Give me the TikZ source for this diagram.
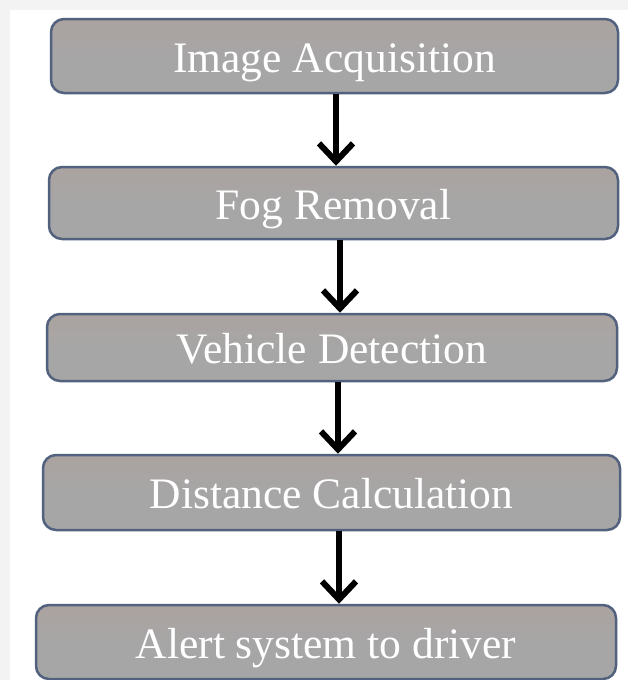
\documentclass[tikz,border=0pt]{standalone}
\usepackage{fontspec}
\setmainfont{Liberation Serif}
\usetikzlibrary{arrows.meta}
\definecolor{boxfill}{HTML}{A6A6A6}
\definecolor{boxtop}{HTML}{ABA3A0}
\definecolor{boxline}{HTML}{52627E}
\definecolor{outerbg}{HTML}{F3F3F3}
\begin{document}
\begin{tikzpicture}[x=1pt,y=-1pt,
  stepbox/.style={draw=boxline, line width=2.5pt, top color=boxtop, bottom color=boxfill, middle color=boxfill,
    rounded corners=13pt, text=white, font=\fontsize{43.5}{48}\selectfont, inner sep=0pt,
    text height=32pt, text depth=0pt},
  flow/.style={line width=5.5pt, -{Straight Barb[length=18pt,width=34pt,line width=6pt]}}]
\fill[outerbg] (0,0) rectangle (628,680);
\fill[white] (10,10) rectangle (628,680);
\useasboundingbox (0,0) rectangle (628,680);
\node[stepbox, minimum width=567pt, minimum height=74pt] (s1) at (334.5,56) {Image Acquisition};
\node[stepbox, minimum width=569pt, minimum height=72pt] (s2) at (333.5,203) {Fog Removal};
\node[stepbox, minimum width=570pt, minimum height=67pt] (s3) at (332,347.5) {Vehicle Detection};
\node[stepbox, minimum width=577pt, minimum height=75pt] (s4) at (331.5,492.5) {Distance Calculation};
\node[stepbox, minimum width=580pt, minimum height=74pt] (s5) at (326,642) {Alert system to driver};
\coordinate (c1) at (336,0);
\coordinate (c2) at (340,0);
\coordinate (c3) at (338,0);
\coordinate (c4) at (339,0);
\draw[flow] (s1.south -| c1) -- (s2.north -| c1);
\draw[flow] (s2.south -| c2) -- (s3.north -| c2);
\draw[flow] (s3.south -| c3) -- (s4.north -| c3);
\draw[flow] (s4.south -| c4) -- (s5.north -| c4);
\end{tikzpicture}
\end{document}
